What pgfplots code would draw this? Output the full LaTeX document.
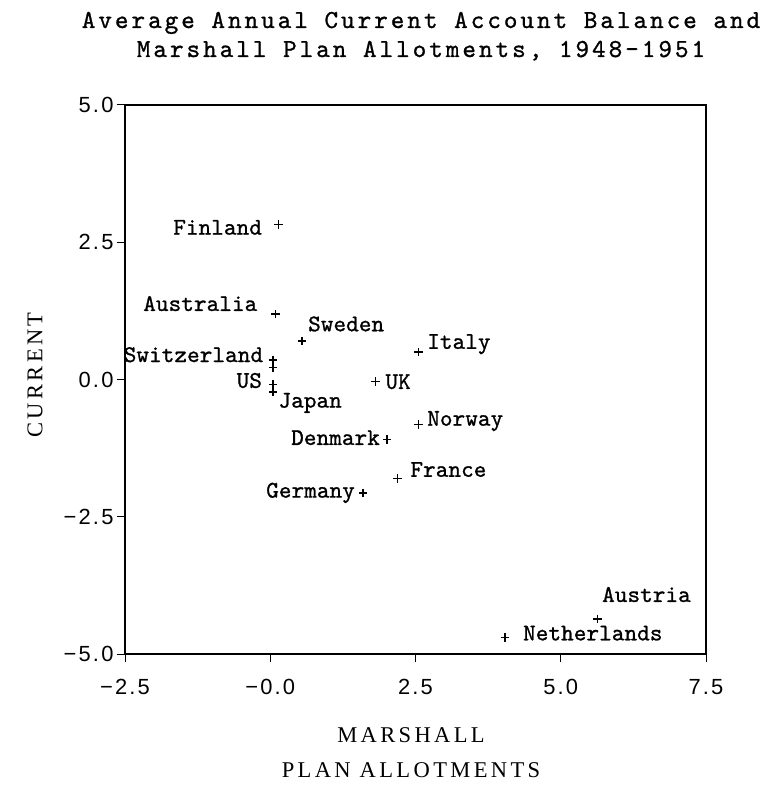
\documentclass[border=0pt]{standalone}
\usepackage{pgfplots}
\pgfplotsset{compat=1.18}
\usepackage{fontspec}
\setmainfont{Liberation Serif}
\newfontfamily\tickfont[LetterSpace=10]{Liberation Sans}
\newfontfamily\titlefont[LetterSpace=11.5,FakeBold=1]{lmmono10-regular.otf}
\newfontfamily\labfont[LetterSpace=0.5,FakeBold=1]{lmmono10-regular.otf}
\newfontfamily\axfont[LetterSpace=15]{Liberation Serif}
\tikzset{lab/.style={font=\labfont\fontsize{24}{26}\selectfont, inner sep=0pt}}
\begin{document}
\begin{tikzpicture}
\useasboundingbox (-125bp,-135bp) rectangle (652bp,654bp);
\begin{axis}[at={(0,0)}, anchor=south west, scale only axis,
  width=581bp, height=549bp,
  xmin=-2.5, xmax=7.5, ymin=-5, ymax=5,
  xtick={-2.5,0,2.5,5,7.5}, xticklabels={−2.5,−0.0,2.5,5.0,7.5},
  ytick={-5,-2.5,0,2.5,5}, yticklabels={−5.0,−2.5,0.0,2.5,5.0},
  tick align=outside, tick pos=left, major tick length=8bp,
  axis line style={line width=2.4bp},
  every tick/.style={black, line width=1bp},
  ticklabel style={font=\tickfont\fontsize{22}{24}\selectfont},
  xticklabel style={yshift=-14bp},
  clip=false]
\addplot[only marks, mark=+, mark size=4.2bp, line width=1.6bp, black] table {
x y
0.14 2.82
0.09 1.19
0.55 0.70
0.05 0.36
0.05 0.22
0.05 -0.09
0.05 -0.23
1.81 -0.04
2.55 0.50
2.55 -0.82
2.01 -1.09
2.19 -1.80
1.60 -2.07
5.63 -4.36
4.04 -4.70
};
\node[lab, anchor=mid east] at (axis cs:-0.14,2.68) {Finland};
\node[lab, anchor=mid east] at (axis cs:-0.22,1.29) {Australia};
\node[lab, anchor=mid west] at (axis cs:0.65,0.92) {Sweden};
\node[lab, anchor=mid east] at (axis cs:-0.12,0.36) {Switzerland};
\node[lab, anchor=mid east] at (axis cs:-0.14,-0.11) {US};
\node[lab, anchor=mid west] at (axis cs:0.14,-0.47) {Japan};
\node[lab, anchor=mid west] at (axis cs:1.98,-0.13) {UK};
\node[lab, anchor=mid west] at (axis cs:2.70,0.60) {Italy};
\node[lab, anchor=mid west] at (axis cs:2.70,-0.80) {Norway};
\node[lab, anchor=mid east] at (axis cs:1.89,-1.15) {Denmark};
\node[lab, anchor=mid west] at (axis cs:2.41,-1.73) {France};
\node[lab, anchor=mid east] at (axis cs:1.46,-2.11) {Germany};
\node[lab, anchor=mid west] at (axis cs:5.71,-4.01) {Austria};
\node[lab, anchor=mid west] at (axis cs:4.35,-4.71) {Netherlands};
\end{axis}
\node[anchor=base, inner sep=0pt, font=\titlefont\fontsize{26}{29}\selectfont] at (296bp,626bp) {Average Annual Current Account Balance and};
\node[anchor=base, inner sep=0pt, font=\titlefont\fontsize{26}{29}\selectfont] at (296bp,597bp) {Marshall Plan Allotments, 1948–1951};
\node[anchor=base, inner sep=0pt, font=\axfont\fontsize{22.6}{26}\selectfont] at (286bp,-88bp) {MARSHALL};
\node[anchor=base, inner sep=0pt, font=\axfont\fontsize{22.6}{26}\selectfont] at (286bp,-123bp) {PLAN ALLOTMENTS};
\node[rotate=90, inner sep=0pt, font=\axfont\fontsize{22.6}{26}\selectfont] at (-90bp,279bp) {CURRENT};
\end{tikzpicture}
\end{document}
